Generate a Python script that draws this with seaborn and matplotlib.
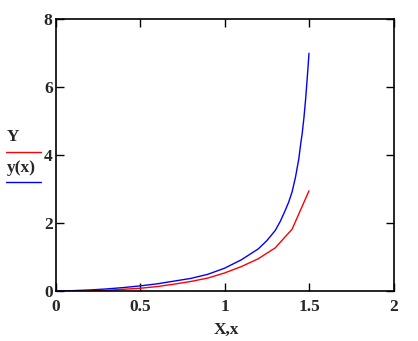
import matplotlib
matplotlib.use("Agg")
import matplotlib.pyplot as plt
import seaborn as sns
import pandas as pd
from matplotlib.lines import Line2D

# Data
X_data = [0.17, 0.3, 0.4, 0.5, 0.6, 0.7, 0.8, 0.9, 1.0, 1.1, 1.2, 1.3, 1.4, 1.5]
Y_data = [0.0, 0.02, 0.05, 0.08, 0.13, 0.20, 0.28, 0.38, 0.53, 0.72, 0.95, 1.27, 1.82, 2.95]

x_fit = [0.0, 0.1, 0.2, 0.3, 0.4, 0.5, 0.6, 0.7, 0.8, 0.9, 1.0, 1.1, 1.2, 1.25,
         1.3, 1.33, 1.36, 1.38, 1.4, 1.42, 1.44, 1.45, 1.46, 1.47, 1.48, 1.49, 1.5]
y_fit = [0.0, 0.01, 0.03, 0.06, 0.10, 0.15, 0.21, 0.29, 0.37, 0.49, 0.67, 0.92,
         1.24, 1.48, 1.78, 2.05, 2.38, 2.62, 2.92, 3.35, 3.9, 4.3, 4.65, 5.1, 5.65, 6.3, 7.0]

x_ticks = [0, 0.5, 1, 1.5, 2]
x_tick_labels = ["0", "0.5", "1", "1.5", "2"]
y_ticks = [0, 2, 4, 6, 8]
y_tick_labels = ["0", "2", "4", "6", "8"]

sns.set_style("ticks", {"xtick.direction": "in", "ytick.direction": "in"})
plt.rcParams["font.family"] = ["Liberation Serif", "DejaVu Serif"]
plt.rcParams["font.weight"] = "bold"

fig = plt.figure(figsize=(4.18, 3.41), dpi=100)
ax = fig.add_axes([55.5 / 418, 1 - 291 / 341, (393.5 - 55.5) / 418, (291 - 19.3) / 341])

df_data = pd.DataFrame({"x": X_data, "y": Y_data})
df_fit = pd.DataFrame({"x": x_fit, "y": y_fit})

sns.lineplot(data=df_fit, x="x", y="y", ax=ax, color="#0000ff", linewidth=1.0,
             sort=False, estimator=None)
sns.lineplot(data=df_data, x="x", y="y", ax=ax, color="#ff0000", linewidth=1.0,
             sort=False, estimator=None)

fs = 12.5
ax.set_xlim(0, 2)
ax.set_ylim(0, 8)
ax.set_xticks(x_ticks)
ax.set_xticklabels(x_tick_labels, fontsize=fs, fontweight="bold")
ax.set_yticks(y_ticks)
ax.set_yticklabels(y_tick_labels, fontsize=fs, fontweight="bold")
ax.tick_params(axis="both", direction="in", length=6, width=1, color="black",
               top=True, right=True)
ax.tick_params(axis="x", pad=6)
ax.tick_params(axis="y", pad=2)
for s in ax.spines.values():
    s.set_visible(True)
    s.set_color("black")
    s.set_linewidth(1.2)

ax.set_xlabel("")
ax.set_ylabel("")
fig.text(226.7 / 418, 1 - 330 / 341, "X,x", ha="center", va="center", fontsize=fs, fontweight="bold")

# Stacked y-axis legend label
fig.text(13 / 418, 1 - 137 / 341, "Y", ha="center", va="center", fontsize=fs, fontweight="bold")
fig.add_artist(Line2D([6 / 418, 40.7 / 418], [1 - 151.7 / 341, 1 - 151.7 / 341],
                      color="#ff0000", linewidth=1.0, transform=fig.transFigure))
fig.text(21 / 418, 1 - 168 / 341, "y(x)", ha="center", va="center", fontsize=fs, fontweight="bold")
fig.add_artist(Line2D([6 / 418, 40.7 / 418], [1 - 181.7 / 341, 1 - 181.7 / 341],
                      color="#0000ff", linewidth=1.0, transform=fig.transFigure))

fig.savefig("out.png", dpi=100, facecolor="white")
